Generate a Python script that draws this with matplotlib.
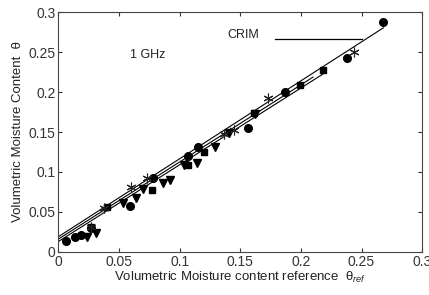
import numpy as np
import matplotlib
matplotlib.use('Agg')
import matplotlib.pyplot as plt

plt.rcParams['font.family'] = ['Liberation Sans', 'DejaVu Sans']
plt.rcParams['mathtext.fontset'] = 'custom'
plt.rcParams['mathtext.rm'] = 'Liberation Sans'
plt.rcParams['mathtext.it'] = 'Liberation Sans:italic'

circ_x = [0.006, 0.014, 0.019, 0.027, 0.059, 0.078, 0.107, 0.115, 0.156, 0.187, 0.238, 0.268]
circ_y = [0.014, 0.019, 0.021, 0.030, 0.058, 0.092, 0.120, 0.131, 0.155, 0.200, 0.242, 0.287]

sq_x = [0.027, 0.040, 0.077, 0.107, 0.120, 0.161, 0.199, 0.218]
sq_y = [0.031, 0.056, 0.077, 0.109, 0.125, 0.174, 0.209, 0.228]

tri_x = [0.024, 0.031, 0.053, 0.064, 0.070, 0.086, 0.092, 0.104, 0.114, 0.129, 0.141, 0.162]
tri_y = [0.019, 0.024, 0.061, 0.068, 0.079, 0.086, 0.090, 0.109, 0.111, 0.131, 0.149, 0.172]

star_x = [0.027, 0.038, 0.060, 0.073, 0.137, 0.145, 0.173, 0.244]
star_y = [0.031, 0.055, 0.081, 0.092, 0.148, 0.153, 0.192, 0.250]

# fitted lines: (intercept, slope, x end)
fit_b = [0.019, 0.013, 0.016]
fit_m = [0.975, 0.96, 0.965]
fit_end = [0.268, 0.218, 0.21]

fig = plt.figure(figsize=(4.29, 2.95), dpi=100)
ax = fig.add_axes([0.136, 0.146, 0.848, 0.813])

for b, m, xe in zip(fit_b, fit_m, fit_end):
    xx = np.array([0, xe])
    ax.plot(xx, b + m * xx, color='k', lw=0.8)

ax.plot(circ_x, circ_y, 'o', color='k', ms=5.5)
ax.plot(sq_x, sq_y, 's', color='k', ms=5)
ax.plot(tri_x, tri_y, 'v', color='k', ms=5.5)
ax.plot(star_x, star_y, marker=(6, 2, 0), ls='none', color='#222222', ms=7, mew=0.8)

# CRIM pointer line
ax.plot([0.179, 0.25], [0.266, 0.266], color='k', lw=0.9)
ax.text(0.139, 0.271, 'CRIM', fontsize=9, va='center', color='#222222')
ax.text(0.059, 0.246, '1 GHz', fontsize=9, va='center', color='#222222')

ax.set_xlim(0, 0.3)
ax.set_ylim(0, 0.3)
ticks = [0, 0.05, 0.1, 0.15, 0.2, 0.25, 0.3]
tick_labels = ['0', '0.05', '0.1', '0.15', '0.2', '0.25', '0.3']
ax.set_xticks(ticks)
ax.set_xticklabels(tick_labels)
ax.set_yticks(ticks)
ax.set_yticklabels(tick_labels)
ax.tick_params(direction='in', top=True, right=True, labelsize=10, length=3,
               pad=2, colors='#333333')
for s in ax.spines.values():
    s.set_color('#444444')

ax.set_xlabel('Volumetric Moisture content reference  θ$_{ref}$',
              fontsize=9.5, labelpad=1, color='#222222')
ax.set_ylabel('Volumetric Moisture Content  θ', fontsize=9.5, labelpad=3,
              color='#222222')

fig.savefig('out.png', dpi=100)
